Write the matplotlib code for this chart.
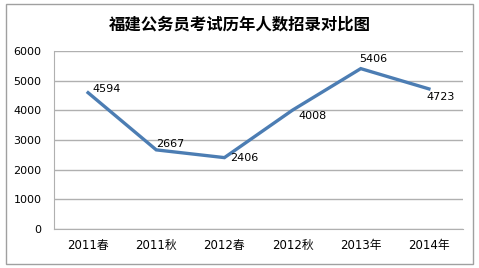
import matplotlib.pyplot as plt
from matplotlib.patches import Rectangle

plt.rcParams['font.family'] = ['DejaVu Sans', 'Noto Sans CJK SC']

# data
categories = ["2011春", "2011秋", "2012春", "2012秋", "2013年", "2014年"]
values = [4594, 2667, 2406, 4008, 5406, 4723]
yticks = [0, 1000, 2000, 3000, 4000, 5000, 6000]
title = "福建公务员考试历年人数招录对比图"

# label offsets in points (dx, dy) and alignment
label_pos = [(3, 3, "left"), (0, 4, "left"), (4, 0, "left"),
             (4, -4, "left"), (-1, 7, "left"), (-2, -6, "left")]

fig = plt.figure(figsize=(4.79, 2.68), dpi=100)
fig.patches.append(Rectangle((6 / 479, 4 / 268), 467 / 479, 260 / 268,
                             transform=fig.transFigure, fill=False,
                             edgecolor="#a0a0a0", linewidth=1))

ax = fig.add_axes([54 / 479, 1 - 229 / 268, 409 / 479, 178 / 268])
x = list(range(len(categories)))
ax.plot(x, values, color="#4c7db3", linewidth=2.4, solid_joinstyle="miter")

for xi, v, (dx, dy, ha) in zip(x, values, label_pos):
    ax.annotate(str(v), (xi, v), xytext=(dx, dy), textcoords="offset points",
                ha=ha, va="center", fontsize=8, color="#000000")

ax.set_xlim(-0.5, len(categories) - 0.5)
ax.set_ylim(0, 6000)
ax.set_yticks(yticks)
ax.set_xticks(x)
ax.set_xticklabels(categories, fontsize=8.5)
ax.tick_params(axis="y", labelsize=8, length=0, pad=9)
ax.tick_params(axis="x", length=0, pad=7)
ax.grid(axis="y", color="#b0b0b0", linewidth=1)
ax.set_axisbelow(True)
for s in ["top", "right"]:
    ax.spines[s].set_visible(False)
ax.spines["left"].set_color("#b0b0b0")
ax.spines["bottom"].set_color("#b0b0b0")

fig.text(0.5, 1 - 25 / 268, title, ha="center", va="center",
         fontsize=11.8, fontweight="bold", family="Noto Sans CJK SC")

fig.savefig("out.png", dpi=100)
